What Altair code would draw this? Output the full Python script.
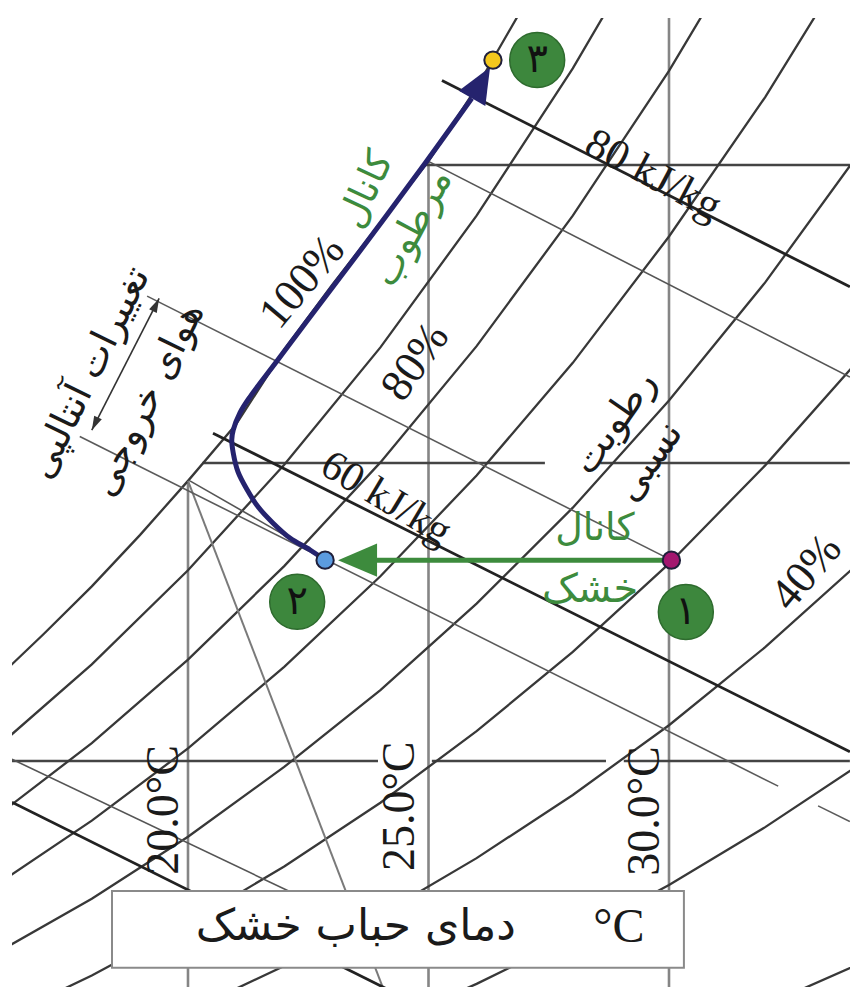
import altair as alt
import pandas as pd

# Chart window: dry-bulb temperature (°C) across, humidity ratio (g/kg) up
T_MIN, T_MAX = 16.341, 33.763
W_MIN, W_MAX = 6.208, 22.466

SERIF = "Liberation Serif"
PERSIAN = "DejaVu Sans"

# Saturation (100 %) humidity ratio, g/kg
SAT_T = [16, 17, 18, 19, 20, 21, 22, 23, 24, 25, 26, 27, 28]
SAT_W = [11.36, 12.13, 12.93, 13.79, 14.70, 15.65, 16.90, 17.99, 19.03, 20.06, 21.30, 22.70, 24.12]

# Relative-humidity curves, g/kg at each grid temperature
RH_T = [16, 18, 20, 22, 24, 26, 28, 30, 32, 34]
RH_LEVELS = [90, 80, 70, 60, 50, 40, 30, 20]
RH_W = [
    [10.21, 11.62, 13.20, 14.97, 16.94, 19.15, 21.62, 24.38, 27.45, 30.88],
    [9.06, 10.30, 11.70, 13.27, 15.01, 16.96, 19.15, 21.58, 24.28, 27.29],
    [7.91, 9.00, 10.21, 11.58, 13.10, 14.79, 16.68, 18.80, 21.14, 23.75],
    [6.77, 7.69, 8.73, 9.90, 11.19, 12.64, 14.25, 16.05, 18.03, 20.25],
    [5.63, 6.40, 7.27, 8.23, 9.30, 10.50, 11.83, 13.31, 14.96, 16.78],
    [4.50, 5.11, 5.80, 6.56, 7.42, 8.37, 9.43, 10.60, 11.91, 13.36],
    [3.37, 3.82, 4.34, 4.91, 5.55, 6.26, 7.05, 7.92, 8.89, 9.96],
    [2.24, 2.55, 2.89, 3.26, 3.69, 4.16, 4.68, 5.26, 5.90, 6.61],
]

# Dry-bulb lines start on the saturation curve
DRY_BULB = [20, 25, 30]
DRY_BULB_SAT_W = [14.70, 20.06, 27.20]
DRY_BULB_LABELS = ["20.0°C", "25.0°C", "30.0°C"]
DRY_BULB_LABEL_T = [19.50, 24.41, 29.50]
DRY_BULB_LABEL_W = [9.18, 9.24, 9.16]

# Constant humidity-ratio lines (broken where labels sit)
HUM_W = [10, 10, 10, 15, 15, 20]
HUM_T0 = [16.34, 25.07, 29.06, 20.30, 28.57, 24.93]
HUM_T1 = [23.95, 28.69, 33.76, 27.42, 33.76, 33.76]

# Constant-enthalpy lines, kJ/kg
ENTHALPY = [40, 60, 80]
ENTH_T0 = [16.34, 20.52, 25.28]
ENTH_T1 = [24.20, 33.76, 33.76]

# Wet-bulb and specific-volume lines (T, W end points)
WET_BULB_LINES = [
    [(25.00, 20.06), (33.76, 16.44)],
    [(20.04, 14.70), (22.85, 13.40)],
    [(16.34, 10.03), (22.40, 7.70)],
]
VOLUME_LINE = [(20.00, 14.70), (24.05, 6.20)]

# Process states 1 (outdoor), 2 (dry channel exit), 3 (wet channel exit)
STATE_NAMES = ["۱", "۲", "۳"]
STATE_T = [30.05, 22.85, 26.34]
STATE_W = [13.37, 13.37, 21.76]
STATE_COLORS = ["#a3176f", "#5b9be0", "#f3c71d"]
BADGE_T = [30.35, 22.27, 27.26]
BADGE_W = [12.50, 12.67, 21.76]

# Wet-channel path from state 2, bending onto the saturation curve
WET_PATH_T = [22.85, 22.54, 22.12, 21.77, 21.46, 21.23, 21.04, 20.94, 20.91,
              20.94, 21.08, 21.29, 21.85, 22.47, 23.70, 24.93, 25.90]
WET_PATH_W = [13.37, 13.54, 13.74, 13.99, 14.26, 14.55, 14.85, 15.17, 15.39,
              15.55, 15.84, 16.11, 16.71, 17.38, 18.69, 20.03, 21.12]
WET_TIP = (26.28, 21.64)
DRY_END_T = 23.35
DRY_TIP_T = 23.12

# Enthalpy-change dimension between the state-1 and state-2 enthalpy lines
DIM_TOP = (19.40, 17.76)
DIM_BOTTOM = (18.00, 15.55)
STATE1_ENTH_T = [19.15, 30.05]
STATE2_ENTH_T = [[17.75, 32.27], [33.10, 33.76]]

# Axis title box
BOX_T = [18.42, 30.31]
BOX_W = [6.53, 7.82]


def enthalpy_w(h, t):
    return 1000 * (h - 1.006 * t) / (2501 + 1.86 * t)


def enthalpy_of(t, w):
    return 1.006 * t + w / 1000 * (2501 + 1.86 * t)


X = alt.X("T:Q", scale=alt.Scale(domain=[T_MIN, T_MAX], nice=False, zero=False), axis=None)
Y = alt.Y("W:Q", scale=alt.Scale(domain=[W_MIN, W_MAX], nice=False, zero=False), axis=None)


def polylines(lines):
    rows = []
    for k, pts in enumerate(lines):
        for i, (t, w) in enumerate(pts):
            rows.append({"id": k, "i": i, "T": t, "W": w})
    return pd.DataFrame(rows)


def line_layer(lines, color, width, **kw):
    return alt.Chart(polylines(lines)).mark_line(
        color=color, strokeWidth=width, clip=True, **kw
    ).encode(x=X, y=Y, detail="id:N", order="i:Q")


def text_layer(s, t, w, size, angle=0, font=SERIF, color="#1a1a1a"):
    df = pd.DataFrame({"T": [t], "W": [w], "s": [s]})
    return alt.Chart(df).mark_text(
        font=font, fontSize=size, angle=angle, color=color,
        align="center", baseline="middle"
    ).encode(x=X, y=Y, text="s:N")


ARROW = "M 0 0 L -2 -0.85 L -2 0.85 Z"
SLIM_ARROW = "M 0 0 L -2 -0.6 L -2 0.6 Z"


def arrow_head(t, w, angle, size, color, shape=ARROW):
    df = pd.DataFrame({"T": [t], "W": [w]})
    return alt.Chart(df).mark_point(
        shape=shape, filled=True, size=size, angle=angle, color=color, opacity=1
    ).encode(x=X, y=Y)


# ---- grid ----
rh_lines = [list(zip(SAT_T, SAT_W))] + [list(zip(RH_T, ws)) for ws in RH_W]
rh = line_layer(rh_lines, "#383838", 2.3)

verticals = line_layer(
    [[(t, w), (t, W_MIN)] for t, w in zip(DRY_BULB, DRY_BULB_SAT_W)], "#858585", 2.6
)
horizontals = line_layer(
    [[(a, w), (b, w)] for w, a, b in zip(HUM_W, HUM_T0, HUM_T1)], "#444444", 2.4
)
enthalpy = line_layer(
    [[(a, enthalpy_w(h, a)), (b, enthalpy_w(h, b))]
     for h, a, b in zip(ENTHALPY, ENTH_T0, ENTH_T1)], "#222222", 2.8
)
wet_bulb = line_layer(WET_BULB_LINES, "#555555", 1.6)
volume = line_layer([VOLUME_LINE], "#7a7a7a", 2.0)

h1 = enthalpy_of(STATE_T[0], STATE_W[0])
h2 = enthalpy_of(STATE_T[1], STATE_W[1])
state_enth = line_layer(
    [[(a, enthalpy_w(h1, a)), (b, enthalpy_w(h1, b))] for a, b in [STATE1_ENTH_T]]
    + [[(a, enthalpy_w(h2, a)), (b, enthalpy_w(h2, b))] for a, b in STATE2_ENTH_T],
    "#5a5a5a", 1.6
)

box = alt.Chart(pd.DataFrame({"T": [BOX_T[0]], "T2": [BOX_T[1]],
                              "W": [BOX_W[0]], "W2": [BOX_W[1]]})).mark_rect(
    fill="white", stroke="#8a8a8a", strokeWidth=2
).encode(x=X, x2="T2:Q", y=Y, y2="W2:Q")

# ---- labels ----
GREEN = "#3d8b3d"
labels = [
    text_layer("80 kJ/kg", 29.67, 19.83, 43, angle=28),
    text_layer("60 kJ/kg", 24.12, 14.41, 42, angle=31),
    text_layer("100%", 22.37, 18.04, 45, angle=310),
    text_layer("80%", 24.72, 16.70, 45, angle=305),
    text_layer("40%", 32.85, 13.17, 45, angle=310),
    text_layer("°C", 28.96, 7.20, 48),
    text_layer("دمای حباب خشک", 23.49, 7.22, 44, font=PERSIAN),
    text_layer("رطوبت", 28.88, 15.67, 38, angle=305, font=PERSIAN),
    text_layer("نسبی", 29.60, 15.02, 38, angle=305, font=PERSIAN),
    text_layer("تغییرات آنتالپی", 17.96, 16.51, 38, angle=296, font=PERSIAN),
    text_layer("هوای خروجی", 19.17, 16.06, 38, angle=296, font=PERSIAN),
    text_layer("کانال", 23.72, 19.58, 38, angle=295, font=PERSIAN, color=GREEN),
    text_layer("مرطوب", 24.68, 18.94, 38, angle=298, font=PERSIAN, color=GREEN),
    text_layer("کانال", 28.46, 13.90, 38, font=PERSIAN, color=GREEN),
    text_layer("خشک", 28.36, 12.87, 40, font=PERSIAN, color=GREEN),
]
for s, t, w in zip(DRY_BULB_LABELS, DRY_BULB_LABEL_T, DRY_BULB_LABEL_W):
    labels.append(text_layer(s, t, w, 46, angle=270))

# ---- enthalpy-change dimension ----
dim_line = line_layer([[DIM_TOP, DIM_BOTTOM]], "#333333", 1.6)
dim_heads = [
    arrow_head(DIM_TOP[0], DIM_TOP[1], 296, 200, "#333333", SLIM_ARROW),
    arrow_head(DIM_BOTTOM[0], DIM_BOTTOM[1], 116, 200, "#333333", SLIM_ARROW),
]

# ---- process paths ----
wet_path = alt.Chart(pd.DataFrame({
    "T": WET_PATH_T, "W": WET_PATH_W, "i": list(range(len(WET_PATH_T)))
})).mark_line(color="#25236e", strokeWidth=5, interpolate="catmull-rom").encode(
    x=X, y=Y, order="i:Q")
wet_head = arrow_head(WET_TIP[0], WET_TIP[1], 300, 1296, "#25236e")

dry_path = line_layer([[(STATE_T[0], STATE_W[0]), (DRY_END_T, STATE_W[0])]], GREEN, 5)
dry_head = arrow_head(DRY_TIP_T, STATE_W[0], 180, 1521, GREEN)

states = alt.Chart(pd.DataFrame({"T": STATE_T, "W": STATE_W, "name": STATE_NAMES})).mark_point(
    shape="circle", filled=True, size=300, opacity=1, stroke="#1f1f3a", strokeWidth=2
).encode(
    x=X, y=Y,
    fill=alt.Fill("name:N", scale=alt.Scale(domain=STATE_NAMES, range=STATE_COLORS), legend=None),
)

badge_df = pd.DataFrame({"T": BADGE_T, "W": BADGE_W, "name": STATE_NAMES})
badges = alt.Chart(badge_df).mark_circle(
    size=3020, color="#3d873d", opacity=1, stroke="#2e6b2e", strokeWidth=1.5
).encode(x=X, y=Y)
badge_text = alt.Chart(badge_df).mark_text(
    font=PERSIAN, fontSize=40, color="#111111", align="center", baseline="middle"
).encode(x=X, y=Y, text="name:N")

chart = alt.layer(
    verticals, horizontals, rh, volume, wet_bulb, state_enth, enthalpy,
    box, *labels, dim_line, *dim_heads,
    dry_path, dry_head, wet_path, wet_head, states, badges, badge_text,
).properties(
    width=838, height=969,
    padding={"left": 12, "top": 18, "right": 0, "bottom": 0},
    autosize=alt.AutoSizeParams(type="none"),
    background="white",
).configure_view(stroke=None)

chart.save("out.html", embed_options={"renderer": "svg", "actions": False})
